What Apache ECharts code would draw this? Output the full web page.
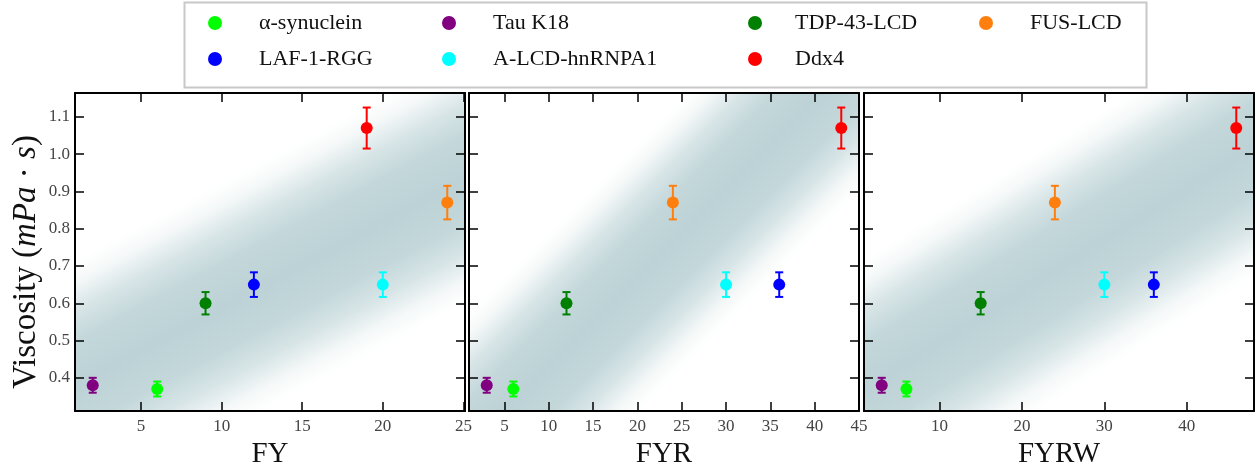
<!DOCTYPE html>
<html>
<head>
<meta charset="utf-8">
<title>Viscosity vs aromatic/charged residue count</title>
<script src="https://cdn.jsdelivr.net/npm/echarts@6/dist/echarts.min.js"></script>
<style>
  html, body { margin: 0; padding: 0; background: #fff; }
  #chart { width: 1257px; height: 465px; }
</style>
</head>
<body>
<div id="chart"></div>
<script>
// proteins, in legend order
const proteins = ['α-synuclein', 'Tau K18', 'TDP-43-LCD', 'FUS-LCD', 'LAF-1-RGG', 'A-LCD-hnRNPA1', 'Ddx4'];
const colors = ['#00ff00', '#800080', '#008000', '#ff7f0e', '#0000ff', '#00ffff', '#ff0000'];

// viscosity (mPa·s) and its error, same order as proteins
const viscosity = [0.37, 0.38, 0.60, 0.87, 0.65, 0.65, 1.07];
const viscosityErr = [0.02, 0.02, 0.03, 0.045, 0.033, 0.033, 0.055];

// residue counts per panel
const countFY = [6, 2, 9, 24, 12, 20, 19];
const countFYR = [6, 3, 12, 24, 36, 30, 43];
const countFYRW = [6, 3, 15, 24, 36, 30, 46];

// tick labels
const ticksFY = [5, 10, 15, 20, 25];
const ticksFYR = [5, 10, 15, 20, 25, 30, 35, 40, 45];
const ticksFYRW = [10, 20, 30, 40];
const ticksVisc = [0.4, 0.5, 0.6, 0.7, 0.8, 0.9, 1.0, 1.1];

const TOP = 93, W = 390, H = 318;

// band: pixel offset of the band centre inside the box, its slope (px) and half width (px)
const panels = [
  { name: 'FY', counts: countFY, ticks: ticksFY, min: 0.9, max: 25.1, left: 75, band: { cx: 195, cy: 189, slope: -0.53, half: 110 } },
  { name: 'FYR', counts: countFYR, ticks: ticksFYR, min: 1, max: 45, left: 469, band: { cx: 195, cy: 159, slope: -1, half: 95 } },
  { name: 'FYRW', counts: countFYRW, ticks: ticksFYRW, min: 0.85, max: 48.15, left: 864, band: { cx: 195, cy: 175, slope: -0.62, half: 110 } }
];

const bandStops = [
  { offset: 0, color: '#ffffff' },
  { offset: 0.08, color: '#f6f9f9' },
  { offset: 0.2, color: '#d8e5e7' },
  { offset: 0.32, color: '#c4d8db' },
  { offset: 0.5, color: '#bdd2d6' },
  { offset: 0.68, color: '#c4d8db' },
  { offset: 0.8, color: '#d8e5e7' },
  { offset: 0.92, color: '#f6f9f9' },
  { offset: 1, color: '#ffffff' }
];

// gradient across the band, in page pixels
function bandGradient(p) {
  const b = p.band;
  const len = Math.sqrt(1 + b.slope * b.slope);
  const nx = -b.slope / len, ny = 1 / len;
  const cx = p.left + b.cx, cy = TOP + b.cy;
  return new echarts.graphic.LinearGradient(
    cx - nx * b.half, cy - ny * b.half, cx + nx * b.half, cy + ny * b.half, bandStops, true);
}

const serif = 'Liberation Serif';
const tickStyle = { show: true, inside: true, length: 9, lineStyle: { color: '#000', width: 1.5 } };
const lineStyle = { show: true, onZero: false, lineStyle: { color: '#000', width: 2 } };

const chart = echarts.init(document.getElementById('chart'));

const grid = [];
const xAxis = [];
const yAxis = [];
const series = [];

panels.forEach((p, k) => {
  grid.push({
    left: p.left, top: TOP, width: W, height: H,
    outerBoundsMode: 'none',
    show: true, borderWidth: 0,
    backgroundColor: bandGradient(p)
  });
  // bottom x axis with labels
  xAxis.push({
    type: 'value', gridIndex: k, position: 'bottom', min: p.min, max: p.max,
    name: p.name, nameLocation: 'middle', nameGap: 18,
    nameTextStyle: { fontFamily: serif, fontSize: 29, color: '#111' },
    axisLine: lineStyle,
    axisTick: { ...tickStyle, customValues: p.ticks },
    axisLabel: { customValues: p.ticks, margin: 7, fontFamily: serif, fontSize: 17, color: '#444' },
    splitLine: { show: false }
  });
  // top mirror axis
  xAxis.push({
    type: 'value', gridIndex: k, position: 'top', min: p.min, max: p.max,
    axisLine: lineStyle,
    axisTick: { ...tickStyle, customValues: p.ticks },
    axisLabel: { show: false },
    splitLine: { show: false }
  });
  // left y axis
  yAxis.push({
    type: 'value', gridIndex: k, position: 'left', min: 0.311, max: 1.164,
    name: k === 0 ? '{n|Viscosity (}{i|mPa}{n| · }{i|s}{n|)}' : '',
    nameLocation: 'middle', nameGap: 32, nameRotate: 90,
    nameTextStyle: {
      padding: [0, 20, 0, 0],
      rich: {
        n: { fontFamily: serif, fontSize: 33, color: '#111' },
        i: { fontFamily: serif, fontSize: 33, fontStyle: 'italic', color: '#111' }
      }
    },
    axisLine: lineStyle,
    axisTick: { ...tickStyle, customValues: ticksVisc },
    axisLabel: {
      show: k === 0, customValues: ticksVisc, margin: 5,
      fontFamily: serif, fontSize: 17, color: '#444',
      formatter: v => v.toFixed(1)
    },
    splitLine: { show: false }
  });
  // right mirror axis
  yAxis.push({
    type: 'value', gridIndex: k, position: 'right', min: 0.311, max: 1.164,
    axisLine: lineStyle,
    axisTick: { ...tickStyle, customValues: ticksVisc },
    axisLabel: { show: false },
    splitLine: { show: false }
  });

  // error bars
  series.push({
    type: 'custom',
    name: 'err' + k,
    xAxisIndex: 2 * k,
    yAxisIndex: 2 * k,
    z: 2,
    silent: true,
    encode: { x: 0, y: 1 },
    data: p.counts.map((c, i) => [c, viscosity[i], viscosityErr[i], i]),
    renderItem: (params, api) => {
      const x = api.value(0);
      const y = api.value(1);
      const e = api.value(2);
      const col = colors[api.value(3)];
      const top = api.coord([x, y + e]);
      const bot = api.coord([x, y - e]);
      const cap = 4;
      const st = { stroke: col, lineWidth: 2 };
      return {
        type: 'group',
        children: [
          { type: 'line', shape: { x1: top[0], y1: top[1], x2: bot[0], y2: bot[1] }, style: st },
          { type: 'line', shape: { x1: top[0] - cap, y1: top[1], x2: top[0] + cap, y2: top[1] }, style: st },
          { type: 'line', shape: { x1: bot[0] - cap, y1: bot[1], x2: bot[0] + cap, y2: bot[1] }, style: st }
        ]
      };
    }
  });

  // points
  proteins.forEach((name, i) => {
    series.push({
      type: 'scatter',
      name: name,
      xAxisIndex: 2 * k,
      yAxisIndex: 2 * k,
      z: 3,
      symbol: 'circle',
      symbolSize: 12,
      itemStyle: { color: colors[i], opacity: 1 },
      data: [[p.counts[i], viscosity[i]]]
    });
  });
});

const legendBase = {
  orient: 'vertical', top: 12, padding: 0, itemGap: 14,
  icon: 'circle', itemWidth: 14, itemHeight: 14,
  selectedMode: false,
  textStyle: { fontFamily: serif, fontSize: 22, lineHeight: 22, color: '#111', padding: [0, 0, 0, 32] }
};

const option = {
  animation: false,
  backgroundColor: '#fff',
  graphic: [{
    type: 'rect', left: 182, top: 0,
    shape: { width: 962, height: 85 },
    style: { fill: 'none', stroke: '#c8c8c8', lineWidth: 2 },
    z: -1
  }],
  legend: [
    { ...legendBase, left: 208, data: ['α-synuclein', 'LAF-1-RGG'] },
    { ...legendBase, left: 442, data: ['Tau K18', 'A-LCD-hnRNPA1'] },
    { ...legendBase, left: 748, data: ['TDP-43-LCD', 'Ddx4'], textStyle: { ...legendBase.textStyle, padding: [0, 0, 0, 28] } },
    { ...legendBase, left: 979, data: ['FUS-LCD'] }
  ],
  grid: grid,
  xAxis: xAxis,
  yAxis: yAxis,
  series: series
};

chart.setOption(option);
</script>
</body>
</html>
